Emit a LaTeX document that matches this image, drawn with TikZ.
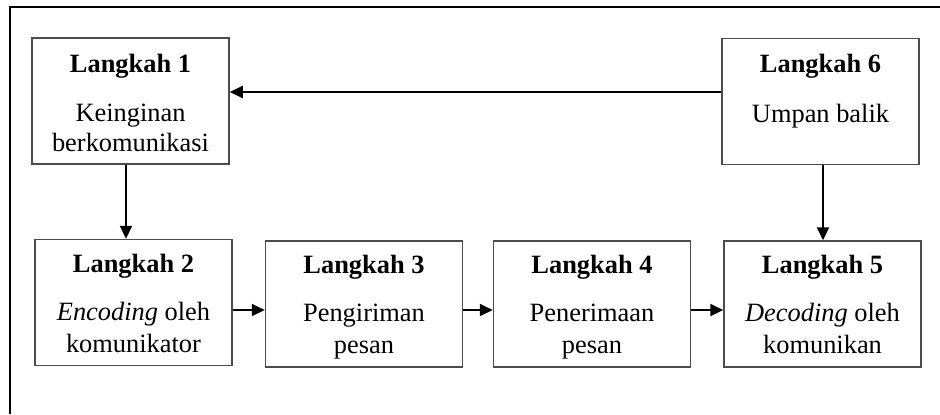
\documentclass[tikz,border=0pt]{standalone}
\usepackage{fontspec}
\setmainfont{Liberation Serif}
\usetikzlibrary{arrows.meta}
\begin{document}
\begin{tikzpicture}[x=0.5pt,y=-0.5pt,
  stepbox/.style={draw=black!70,line width=0.75pt,minimum width=98.5pt,minimum height=63pt,inner sep=0pt},
  txt/.style={anchor=base,inner sep=0pt,font=\fontsize{13.2}{15.5}\selectfont},
  conn/.style={line width=1pt,-{Triangle[length=6.5pt,width=6pt]}}]
\useasboundingbox (0,0) rectangle (940,414);
\draw[line width=1.2pt] (10,414) -- (10,7) -- (940,7);
\node[stepbox] (b1) at (130.5,101) {};
\node[stepbox] (b6) at (820.5,101.5) {};
\node[stepbox] (b2) at (133.5,302.5) {};
\node[stepbox] (b3) at (364,304) {};
\node[stepbox] (b4) at (592,304) {};
\node[stepbox] (b5) at (822.5,304) {};
% texts
\node[txt] (t1) at (130.5,72) {\bfseries Langkah 1};
\node[txt] (t1a) at (130.5,121) {Keinginan};
\node[txt] (t1b) at (130.5,151) {berkomunikasi};
\node[txt] (t6) at (820.5,72) {\bfseries Langkah 6};
\node[txt] (t6a) at (820.5,122) {Umpan balik};
\node[txt] (t2) at (133.5,272) {\bfseries Langkah 2};
\node[txt] (t2a) at (133.5,320) {\itshape Encoding\/\upshape{} oleh};
\node[txt] (t2b) at (133.5,352) {komunikator};
\node[txt] (t3) at (364,273) {\bfseries Langkah 3};
\node[txt] (t3a) at (364,321) {Pengiriman};
\node[txt] (t3b) at (364,353) {pesan};
\node[txt] (t4) at (592,273) {\bfseries Langkah 4};
\node[txt] (t4a) at (592,321) {Penerimaan};
\node[txt] (t4b) at (592,353) {pesan};
\node[txt] (t5) at (822.5,273) {\bfseries Langkah 5};
\node[txt] (t5a) at (822.5,321) {\itshape Decoding\/\upshape{} oleh};
\node[txt] (t5b) at (822.5,353) {komunikan};
% connectors
\coordinate (ytop) at (0,92);
\coordinate (ymid) at (0,310);
\coordinate (xl) at (126,0);
\coordinate (xr) at (823,0);
\draw[conn] (b6.west |- ytop) -- (b1.east |- ytop);
\draw[conn] (xl |- b1.south) -- (xl |- b2.north);
\draw[conn] (xr |- b6.south) -- (xr |- b5.north);
\draw[conn] (b2.east |- ymid) -- (b3.west |- ymid);
\draw[conn] (b3.east |- ymid) -- (b4.west |- ymid);
\draw[conn] (b4.east |- ymid) -- (b5.west |- ymid);
\end{tikzpicture}
\end{document}
